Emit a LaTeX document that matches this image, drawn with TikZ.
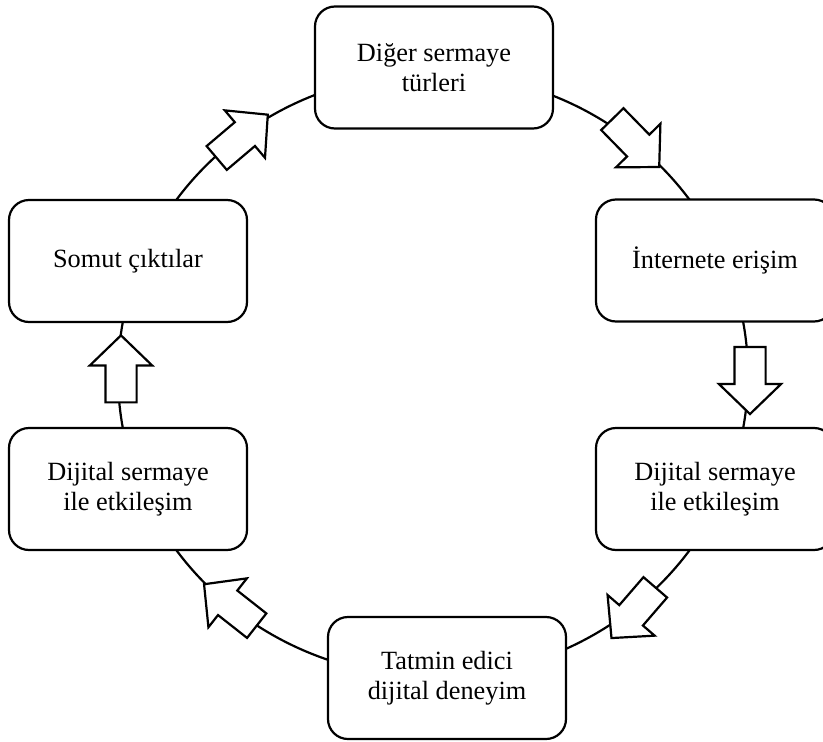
\documentclass[tikz,border=0pt]{standalone}
\usepackage{fontspec}
\setmainfont{Liberation Serif}
\usetikzlibrary{shapes.arrows}
\tikzset{
  stagebox/.style={draw=black, line width=2.2pt, fill=white, rounded corners=20pt,
    minimum width=238pt, minimum height=122pt, inner sep=0pt, align=center,
    font=\fontsize{26.3}{29.5}\selectfont},
  flowarrow/.style={single arrow, draw=black, line width=2.2pt, fill=white,
    inner xsep=0pt, inner ysep=14.5pt, minimum height=67pt,
    single arrow head extend=15.5pt, single arrow head indent=0pt, single arrow tip angle=92},
  ring/.style={draw=black, line width=2.2pt}
}
\begin{document}
\begin{tikzpicture}[x=1pt, y=-1pt]
\useasboundingbox (0,0) rectangle (823,742);
\clip (0,0) rectangle (823,742);
\fill[white] (0,0) rectangle (823,742);
\draw[ring] (433,375) ellipse [x radius=315pt, y radius=302pt];
\node[stagebox] (top) at (434,67.5) {Diğer sermaye\\türleri};
\node[stagebox] (ru) at (715,260.5) {İnternete erişim};
\node[stagebox] (rl) at (715,489) {Dijital sermaye\\ile etkileşim};
\node[stagebox] (bot) at (447,678) {Tatmin edici\\dijital deneyim};
\node[stagebox] (ll) at (128,489) {Dijital sermaye\\ile etkileşim};
\node[stagebox] (lu) at (128,261) {Somut çıktılar};
\node[flowarrow, rotate=40.3] (a1) at (236.5,141.2) {};
\node[flowarrow, rotate=-45.6] (a2) at (630.5,137.7) {};
\node[flowarrow, rotate=-90] (a3) at (750,373) {};
\node[flowarrow, rotate=-130.8] (a4) at (638.3,607) {};
\node[flowarrow, rotate=141.8] (a5) at (236.3,609.6) {};
\node[flowarrow, rotate=90] (a6) at (121,376.4) {};
\end{tikzpicture}
\end{document}
